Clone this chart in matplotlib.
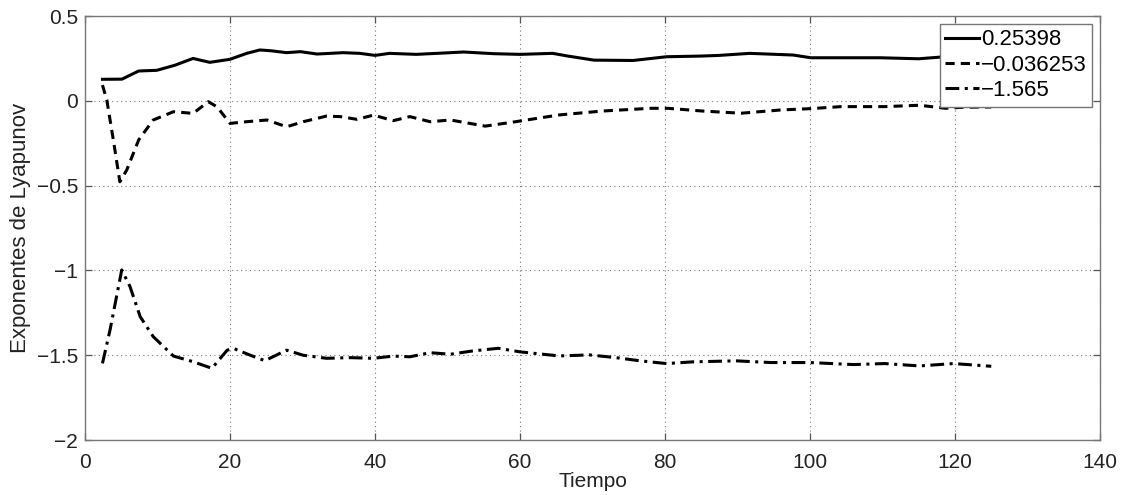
import matplotlib.pyplot as plt

# Exponentes de Lyapunov estimados a lo largo del tiempo
t_1 = [2.4, 5.1, 7.4, 9.9, 12.4, 14.9, 17.2, 20.0, 22.3, 24.1, 25.7, 27.8, 29.7,
       32.0, 35.6, 37.9, 40.0, 42.0, 45.7, 50.4, 52.2, 56.4, 60.0, 64.5, 66.6,
       70.2, 75.6, 80.2, 85.0, 87.5, 91.7, 97.7, 100.1, 109.7, 115.0, 118.0, 125.0]
lam_1 = [0.127, 0.128, 0.176, 0.18, 0.21, 0.25, 0.227, 0.245, 0.28, 0.30, 0.295,
         0.284, 0.29, 0.276, 0.284, 0.28, 0.268, 0.28, 0.274, 0.284, 0.288, 0.278,
         0.274, 0.28, 0.264, 0.24, 0.238, 0.26, 0.264, 0.268, 0.28, 0.27, 0.254,
         0.254, 0.248, 0.258, 0.25398]

t_2 = [2.4, 3.0, 3.9, 4.8, 5.75, 7.4, 9.4, 12.2, 14.9, 17.0, 18.2, 20.0, 22.3,
       25.1, 27.8, 30.1, 33.3, 35.2, 37.5, 39.8, 42.5, 44.8, 47.6, 50.4, 55.2,
       59.4, 65.4, 71.4, 78.0, 80.4, 85.1, 90.5, 95.9, 100.1, 104.3, 110.3,
       115.1, 118.7, 121.0, 125.0]
lam_2 = [0.093, 0.005, -0.23, -0.477, -0.408, -0.23, -0.113, -0.064, -0.074,
         -0.005, -0.035, -0.133, -0.123, -0.113, -0.153, -0.123, -0.09, -0.093,
         -0.109, -0.084, -0.117, -0.093, -0.123, -0.113, -0.149, -0.123, -0.083,
         -0.06, -0.044, -0.044, -0.06, -0.073, -0.054, -0.046, -0.034, -0.034,
         -0.026, -0.044, -0.038, -0.036253]

t_3 = [2.4, 3.45, 5.06, 6.2, 7.6, 9.4, 12.2, 14.9, 17.5, 19.6, 20.5, 22.8, 24.8,
       27.8, 30.1, 33.3, 36.6, 39.8, 42.5, 44.8, 47.6, 50.4, 53.4, 57.0, 60.0,
       65.4, 69.6, 73.2, 76.6, 80.2, 83.8, 89.8, 94.6, 100.0, 106.0, 110.3,
       115.1, 119.8, 125.0]
lam_3 = [-1.548, -1.35, -0.997, -1.095, -1.272, -1.39, -1.505, -1.538, -1.577,
         -1.47, -1.46, -1.5, -1.532, -1.47, -1.5, -1.518, -1.514, -1.518, -1.505,
         -1.509, -1.485, -1.494, -1.475, -1.459, -1.48, -1.504, -1.498, -1.514,
         -1.533, -1.549, -1.539, -1.533, -1.543, -1.543, -1.555, -1.549, -1.563,
         -1.549, -1.565]

etiquetas = ["0.25398", "\u22120.036253", "\u22121.565"]

plt.rcParams["font.family"] = ["Liberation Sans", "DejaVu Sans"]

fig = plt.figure(figsize=(11.28, 4.95), dpi=100)
ax = fig.add_axes([0.0754, 0.111, 0.8998, 0.8566])

ax.plot(t_1, lam_1, color="black", linewidth=2.2, linestyle="-", label=etiquetas[0])
ax.plot(t_2, lam_2, color="black", linewidth=2.2, linestyle=(0, (3, 2)),
        label=etiquetas[1])
ax.plot(t_3, lam_3, color="black", linewidth=2.2, linestyle=(0, (4.5, 1.8, 1, 1.8)),
        label=etiquetas[2])

ax.set_xlim(0, 140)
ax.set_ylim(-2, 0.5)
ax.set_xticks(range(0, 141, 20))
ax.set_yticks([-2, -1.5, -1, -0.5, 0, 0.5])
ax.set_yticklabels(["\u22122", "\u22121.5", "\u22121", "\u22120.5", "0", "0.5"])

ax.grid(True, linestyle=(0, (1, 3)), linewidth=0.8, color="#777777")
ax.tick_params(direction="in", length=5, width=0.9, top=True, right=True,
               labelsize=15, colors="#555555", labelcolor="#222222")
ax.tick_params(axis="x", pad=9)
ax.tick_params(axis="y", pad=5)
for sp in ax.spines.values():
    sp.set_color("#777777")
    sp.set_linewidth(1.0)

ax.set_xlabel("Tiempo", fontsize=15, color="#222222", labelpad=0)
ax.set_ylabel("Exponentes de Lyapunov", fontsize=16, color="#222222", labelpad=4)

leg = ax.legend(loc="upper right", fontsize=16, handlelength=1.5,
                handletextpad=0.1, borderpad=0.25, labelspacing=0.2,
                borderaxespad=0.35, fancybox=False, framealpha=1)
leg.get_frame().set_edgecolor("#777777")
leg.get_frame().set_linewidth(1.0)

fig.savefig("out.png", dpi=100)
